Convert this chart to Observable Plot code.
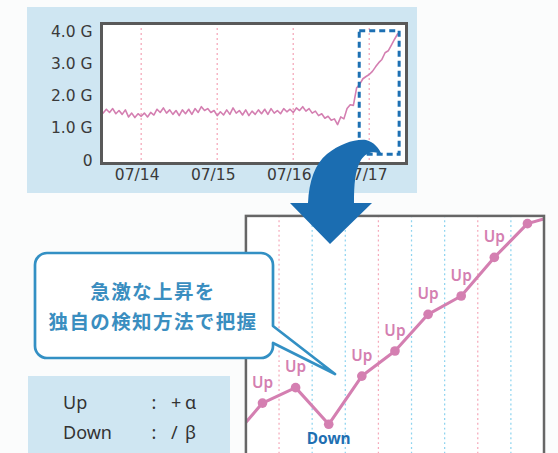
<!DOCTYPE html>
<html>
<head>
<meta charset="utf-8">
<script src="https://cdn.jsdelivr.net/npm/d3@7"></script>
<script src="https://cdn.jsdelivr.net/npm/@observablehq/plot@0.6"></script>
<style>
  html, body { margin: 0; padding: 0; }
  body {
    width: 558px; height: 453px; position: relative; overflow: hidden;
    background: #fbfcfc; font-family: "Noto Sans", sans-serif;
  }
  .abs { position: absolute; }
  #topPanel { left: 27px; top: 7px; width: 390px; height: 186px; background: #cfe6f2; }
  #legendBox { left: 28px; top: 376px; width: 202px; height: 90px; background: #cfe6f2; }
  #bottomChart { left: 230px; top: 200px; }
  #overlay { left: 0; top: 0; }
  svg { display: block; }
</style>
</head>
<body>
<div id="topPanel" class="abs"></div>
<div id="bottomChart" class="abs"></div>
<div id="legendBox" class="abs"></div>
<svg id="overlay" class="abs" width="558" height="453"></svg>

<script>
// ---- Overview: hourly traffic (G), 07/13 12:00 through 07/17 09:00 ----
const year = 2016;
const firstSample = Date.UTC(year, 6, 13, 12);
const viewStart = Date.UTC(year, 6, 13, 11, 28);
const viewEnd = Date.UTC(year, 6, 17, 11, 46);
const dayLabels = ["07/14", "07/15", "07/16", "07/17"];
const trafficG = [
  1.48, 1.60, 1.50, 1.62, 1.46, 1.56, 1.44, 1.58, 1.36, 1.48,
  1.34, 1.46, 1.38, 1.48, 1.36, 1.50, 1.42, 1.60, 1.50, 1.64,
  1.48, 1.58, 1.44, 1.56, 1.40, 1.58, 1.46, 1.60, 1.44, 1.62,
  1.50, 1.68, 1.56, 1.62, 1.50, 1.56, 1.40, 1.52, 1.42, 1.58,
  1.44, 1.64, 1.48, 1.56, 1.42, 1.58, 1.40, 1.54, 1.44, 1.58,
  1.46, 1.60, 1.44, 1.62, 1.48, 1.56, 1.46, 1.62, 1.52, 1.60,
  1.50, 1.64, 1.56, 1.68, 1.54, 1.62, 1.48, 1.54, 1.40, 1.46,
  1.32, 1.38, 1.26, 1.30, 1.12, 1.36, 1.30, 1.62, 1.74, 1.72,
  2.26, 2.38, 2.55, 2.62, 2.68, 2.78, 2.92, 3.05, 3.15, 3.36,
  3.42, 3.60, 3.78, 3.95
];
const yTickValues = [0, 1, 2, 3, 4];
// window flagged by the detector
const surgeWindow = { start: Date.UTC(year, 6, 16, 21, 0), end: Date.UTC(year, 6, 17, 9, 36), low: 0.18, high: 4.03 };

// ---- Detail: step-by-step level changes ----
const stepLevels = [0.0, 4.0, 5.6, 1.8, 6.8, 9.4, 13.2, 15.1, 19.1, 22.6, 23.6];
const stepMoves  = ["", "Up", "Up", "Down", "Up", "Up", "Up", "Up", "Up", "Up", "Up"];
const stepView = [0.5, 9.5];
const dayRules = [1.5, 4.5, 7.5];
const hourRules = [2.5, 3.5, 5.5, 6.5, 8.5];

// ---- Texts ----
const calloutLines = ["急激な上昇を", "独自の検知方法で把握"];
const legendRows = [
  { name: "Up", op: "+", sym: "α" },
  { name: "Down", op: "/", sym: "β" }
];

// ---------- overview chart ----------
const hour = 3600e3;
const series = trafficG.map((v, i) => ({ time: new Date(firstSample + i * hour), value: v }));
const dayDates = dayLabels.map(s => {
  const [m, d] = s.split("/").map(Number);
  return new Date(Date.UTC(year, m - 1, d));
});
const fmtG = v => v === 0 ? "0" : v.toFixed(1) + " G";

const overview = Plot.plot({
  width: 390, height: 186,
  marginLeft: 74, marginRight: 11, marginTop: 16, marginBottom: 30,
  style: { background: "transparent", overflow: "visible" },
  x: { type: "utc", domain: [new Date(viewStart), new Date(viewEnd)], axis: null },
  y: { domain: [-0.09, 4.27], axis: null },
  marks: [
    Plot.frame({ fill: "white" }),
    Plot.ruleX(dayDates, { stroke: "#f5aabb", strokeWidth: 1.3, strokeDasharray: "2,3" }),
    Plot.lineY(series, { x: "time", y: "value", stroke: "#d47fb1", strokeWidth: 1.6 }),
    Plot.rect([surgeWindow], {
      x1: d => new Date(d.start), x2: d => new Date(d.end), y1: "low", y2: "high",
      fill: "none", stroke: "#1d70b3", strokeWidth: 3, strokeDasharray: "6,4"
    }),
    Plot.frame({ stroke: "#595959", strokeWidth: 3 }),
    Plot.text(yTickValues, {
      y: d => d, frameAnchor: "left", textAnchor: "end", dx: -9,
      text: fmtG, fill: "#3a3a3a", fontSize: 15.5, fontFamily: "DejaVu Sans"
    }),
    Plot.text(dayDates, {
      x: d => d, frameAnchor: "bottom", dy: 16, dx: -4,
      text: (d, i) => dayLabels[i], fill: "#3a3a3a", fontSize: 15.5, fontFamily: "DejaVu Sans"
    })
  ]
});
document.getElementById("topPanel").appendChild(overview);
overview.style.position = "absolute";
overview.style.left = "0px";
overview.style.top = "0px";

// ---------- detail chart ----------
const steps = stepLevels.map((v, i) => ({ idx: i, level: v, move: stepMoves[i] }));
const inView = d => d.idx >= stepView[0] && d.idx <= stepView[1];
const detail = Plot.plot({
  width: 340, height: 300,
  marginLeft: 16, marginRight: 15, marginTop: 16, marginBottom: 20,
  style: { background: "transparent", overflow: "visible" },
  x: { domain: stepView, axis: null },
  y: { domain: [-3, 23.4], axis: null },
  marks: [
    Plot.frame({ fill: "white" }),
    Plot.ruleX(hourRules, { stroke: "#8fd4ef", strokeWidth: 1.3, strokeDasharray: "2,3" }),
    Plot.ruleX(dayRules, { stroke: "#f5aabb", strokeWidth: 1.3, strokeDasharray: "2,3" }),
    Plot.line(steps, { x: "idx", y: "level", stroke: "#d47fb1", strokeWidth: 3.2, clip: true }),
    Plot.dot(steps, { x: "idx", y: "level", r: 5, fill: "#d47fb1", clip: true }),
    Plot.text(steps.filter(d => inView(d) && d.move === "Up"), {
      x: "idx", y: "level", text: "move", dy: -21, fill: "#d47fb1",
      fontSize: 16, fontWeight: 600, fontFamily: "Noto Sans", clip: true
    }),
    Plot.text(steps.filter(d => inView(d) && d.move === "Down"), {
      x: "idx", y: "level", text: "move", dy: 15, fill: "#1f6fb2",
      fontSize: 16, fontWeight: 700, fontFamily: "Noto Sans", clip: true
    }),
    Plot.frame({ stroke: "#666666", strokeWidth: 2.6 })
  ]
});
document.getElementById("bottomChart").appendChild(detail);

// ---------- callout, legend text and arrow ----------
const svg = d3.select("#overlay");

// speech bubble pointing at the detail chart
svg.append("path")
  .attr("d", "M47,253 H261 A12,12 0 0 1 273,265 V326 L335,374 L273,343 V346 A12,12 0 0 1 261,358 H47 A12,12 0 0 1 35,346 V265 A12,12 0 0 1 47,253 Z")
  .attr("fill", "#ffffff")
  .attr("stroke", "#3390c4")
  .attr("stroke-width", 2.7)
  .attr("stroke-linejoin", "round");

svg.selectAll("text.callout")
  .data(calloutLines)
  .join("text")
  .attr("class", "callout")
  .attr("x", 153)
  .attr("y", (d, i) => 290 + i * 30)
  .attr("text-anchor", "middle")
  .attr("dominant-baseline", "central")
  .attr("font-family", "'Noto Sans CJK JP', sans-serif")
  .attr("font-weight", 700)
  .attr("font-size", 19.5)
  .attr("letter-spacing", 1.4)
  .attr("fill", "#3a8ec0")
  .text(d => d);

// legend rows
const rows = svg.selectAll("g.legendRow")
  .data(legendRows)
  .join("g")
  .attr("class", "legendRow")
  .attr("transform", (d, i) => `translate(0,${402 + i * 29.5})`)
  .attr("font-family", "'Noto Sans', sans-serif")
  .attr("font-size", 18)
  .attr("fill", "#333333")
  .attr("dominant-baseline", "central");
rows.append("text").attr("x", 63).text(d => d.name);
rows.append("text").attr("x", 154).attr("text-anchor", "middle").text(":");
rows.append("text").attr("x", 171).text(d => d.op);
rows.append("text").attr("x", 185).text(d => d.sym);

// curved arrow from the flagged window down to the detail chart
svg.append("path")
  .attr("d", "M290,203 L308,203 C309,181 315,164 327,154 C340,144 354,139 366,140 C374,142 379,148 382,155 C375,150 366,152 361,160 C355,170 354,185 354,203 L372,203 L330,244 Z")
  .attr("fill", "#1b6db1");
</script>
</body>
</html>
